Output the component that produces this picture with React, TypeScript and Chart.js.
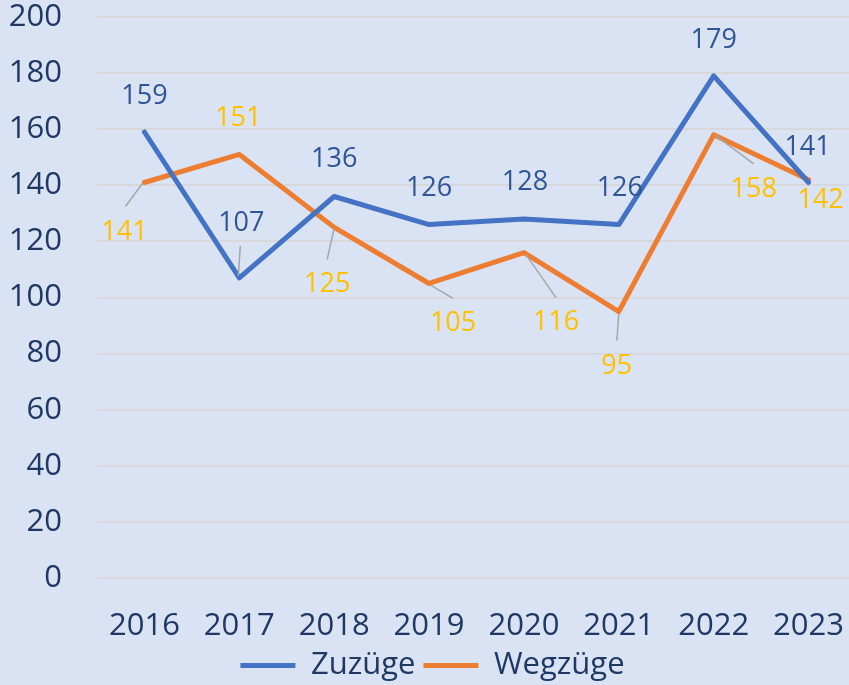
import React, { useEffect, useRef } from "react";
import { Chart, registerables } from "chart.js";

Chart.register(...registerables);

// ---- data ----
const years = ["2016", "2017", "2018", "2019", "2020", "2021", "2022", "2023"];
const zuzuege = [159, 107, 136, 126, 128, 126, 179, 141];
const wegzuege = [141, 151, 125, 105, 116, 95, 158, 142];
const seriesNames = ["Zuzüge", "Wegzüge"];
const yMin = 0;
const yMax = 200;
const yStep = 20;

// ---- label placement styles (pixel offsets relative to each point) ----
type LabelPos = { dx: number; dy: number; leader?: [number, number, number, number] };
const zuzuegeLabelPos: LabelPos[] = [
  { dx: 0, dy: -36 },
  { dx: 2, dy: -55, leader: [1, -32, -1, -2] },
  { dx: 0, dy: -37 },
  { dx: 0, dy: -36 },
  { dx: 1, dy: -37 },
  { dx: 1, dy: -36 },
  { dx: 0, dy: -36 },
  { dx: -1, dy: -35 },
];
const wegzuegeLabelPos: LabelPos[] = [
  { dx: -20, dy: 50, leader: [-2, 1, -19, 24] },
  { dx: -1, dy: -36 },
  { dx: -7, dy: 57, leader: [0, 1, -7, 32] },
  { dx: 24, dy: 40, leader: [2, 2, 24, 15] },
  { dx: 32, dy: 70, leader: [2, 2, 32, 45] },
  { dx: -2, dy: 55, leader: [0, 2, -2, 29] },
  { dx: 40, dy: 55, leader: [1, 0, 40, 29] },
  { dx: 12, dy: 21 },
];

const BG = "#DAE3F3";
const BLUE = "#4472C4";
const ORANGE = "#ED7D31";
const BLUE_LABEL = "#2F5597";
const ORANGE_LABEL = "#FFC000";
const TEXT = "#1F3864";
const GRID = "#D6D8DC";
const LEADER = "#A6A6A6";
const FONT = "'Open Sans', 'Noto Sans', sans-serif";

const labelStyles = [
  { color: BLUE_LABEL, pos: zuzuegeLabelPos },
  { color: ORANGE_LABEL, pos: wegzuegeLabelPos },
];

const valueLabelPlugin = {
  id: "valueLabels",
  afterDatasetsDraw(chart: any) {
    const ctx = chart.ctx;
    ctx.save();
    chart.data.datasets.forEach((ds: any, di: number) => {
      const meta = chart.getDatasetMeta(di);
      const st = labelStyles[di];
      meta.data.forEach((pt: any, i: number) => {
        const p = st.pos[i];
        const x = pt.x;
        const y = pt.y;
        if (p.leader) {
          ctx.beginPath();
          ctx.strokeStyle = LEADER;
          ctx.lineWidth = 1.5;
          ctx.moveTo(x + p.leader[0], y + p.leader[1]);
          ctx.lineTo(x + p.leader[2], y + p.leader[3]);
          ctx.stroke();
        }
        ctx.fillStyle = st.color;
        ctx.font = `27px ${FONT}`;
        ctx.textAlign = "center";
        ctx.textBaseline = "middle";
        ctx.fillText(String(ds.data[i]), x + p.dx, y + p.dy);
      });
    });
    ctx.restore();
  },
};

export default function App() {
  const canvasRef = useRef<HTMLCanvasElement | null>(null);

  useEffect(() => {
    const canvas = canvasRef.current;
    if (!canvas) return;
    const chart = new Chart(canvas, {
      type: "line",
      data: {
        labels: years,
        datasets: [
          {
            label: seriesNames[0],
            data: zuzuege,
            borderColor: BLUE,
            backgroundColor: BLUE,
            borderWidth: 5,
            pointRadius: 0,
            pointHoverRadius: 0,
            borderJoinStyle: "round",
            borderCapStyle: "round",
            tension: 0,
          },
          {
            label: seriesNames[1],
            data: wegzuege,
            borderColor: ORANGE,
            backgroundColor: ORANGE,
            borderWidth: 5,
            pointRadius: 0,
            pointHoverRadius: 0,
            borderJoinStyle: "round",
            borderCapStyle: "round",
            tension: 0,
          },
        ],
      },
      options: {
        responsive: false,
        animation: false,
        layout: { padding: { left: 9, right: 0, top: 0, bottom: -6 } },
        scales: {
          x: {
            offset: true,
            grid: { display: false, drawTicks: false },
            border: { display: false },
            ticks: {
              color: TEXT,
              font: { family: FONT, size: 31 },
              padding: 30,
              maxRotation: 0,
              autoSkip: false,
            },
            afterFit(scale: any) {
              scale.height = 64;
              scale.paddingLeft = 0;
              scale.paddingRight = 0;
            },
          },
          y: {
            min: yMin,
            max: yMax,
            grid: { color: GRID, lineWidth: 2, drawTicks: false },
            border: { display: false },
            ticks: {
              stepSize: yStep,
              color: TEXT,
              font: { family: FONT, size: 31 },
              padding: 35,
            },
            afterFit(scale: any) {
              scale.width = 88;
              scale.paddingTop = 17;
              scale.paddingBottom = 0;
            },
          },
        },
        plugins: {
          tooltip: { enabled: false },
          legend: {
            position: "bottom",
            labels: {
              color: TEXT,
              font: { family: FONT, size: 31 },
              boxWidth: 55,
              boxHeight: 5,
              padding: 8,
              generateLabels(ch: any) {
                const items = Chart.defaults.plugins.legend.labels.generateLabels(ch);
                return items.map((it: any) => ({ ...it, lineWidth: 0, fillStyle: it.strokeStyle }));
              },
            },
          },
        },
      },
      plugins: [valueLabelPlugin],
    });
    return () => chart.destroy();
  }, []);

  return (
    <div
      style={{
        position: "fixed",
        left: 0,
        top: 0,
        width: 849,
        height: 685,
        overflow: "hidden",
        background: BG,
      }}
    >
      <canvas ref={canvasRef} width={856} height={685} style={{ display: "block" }} />
    </div>
  );
}
